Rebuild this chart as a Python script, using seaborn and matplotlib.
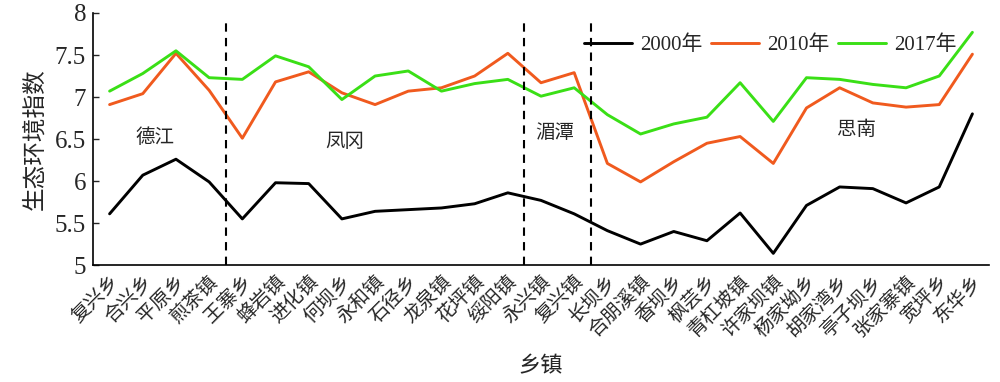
import numpy as np
import pandas as pd
import matplotlib
matplotlib.use('Agg')
import matplotlib.pyplot as plt
import seaborn as sns

# town names along the x axis
towns = ['复兴乡', '合兴乡', '平原乡', '煎茶镇', '王寨乡', '蜂岩镇', '进化镇', '何坝乡', '永和镇',
         '石径乡', '龙泉镇', '花坪镇', '绥阳镇', '永兴镇', '复兴镇', '长坝乡', '合朋溪镇', '香坝乡',
         '枫芸乡', '青杠坡镇', '许家坝镇', '杨家坳乡', '胡家湾乡', '亭子坝乡', '张家寨镇', '宽坪乡', '东华乡']

# ecological index per year
y2000 = [5.61, 6.07, 6.26, 5.99, 5.55, 5.98, 5.97, 5.55, 5.64, 5.66, 5.68, 5.73, 5.86, 5.77,
         5.61, 5.41, 5.25, 5.40, 5.29, 5.62, 5.14, 5.71, 5.93, 5.91, 5.74, 5.93, 6.80]
y2010 = [6.91, 7.04, 7.52, 7.08, 6.51, 7.18, 7.30, 7.05, 6.91, 7.07, 7.11, 7.25, 7.52, 7.17,
         7.29, 6.21, 5.99, 6.23, 6.45, 6.53, 6.21, 6.87, 7.11, 6.93, 6.88, 6.91, 7.51]
y2017 = [7.07, 7.28, 7.55, 7.23, 7.21, 7.49, 7.36, 6.97, 7.25, 7.31, 7.07, 7.16, 7.21, 7.01,
         7.11, 6.79, 6.56, 6.68, 6.76, 7.17, 6.71, 7.23, 7.21, 7.15, 7.11, 7.25, 7.77]
years = ['2000年', '2010年', '2017年']

# county groups: name, label position (index, value)
regions = ['德江', '凤冈', '湄潭', '思南']
region_x = [1.36, 7.08, 13.4, 22.5]
region_y = [6.52, 6.46, 6.57, 6.61]
dividers = [3.5, 12.5, 14.5]

idx = np.arange(len(towns))
df = pd.DataFrame({
    'idx': np.tile(idx, 3),
    'value': y2000 + y2010 + y2017,
    'year': np.repeat(years, len(towns)),
})

sns.set_style('white')
plt.rcParams['font.family'] = ['Liberation Serif', 'Noto Sans CJK SC']

fig = plt.figure(figsize=(10, 3.82), dpi=100)
ax = fig.add_axes([0.093, 0.306, 0.896, 0.66])

palette = {'2000年': 'black', '2010年': '#F05A1E', '2017年': '#3ADF16'}
sns.lineplot(data=df, x='idx', y='value', hue='year', palette=palette, linewidth=2.1, ax=ax)

# dashed county boundaries
for d in dividers:
    ax.axvline(d, ymin=0, ymax=0.97, color='black', linestyle=(0, (4, 3)), linewidth=1.5)

for name, rx, ry in zip(regions, region_x, region_y):
    ax.text(rx, ry, name, ha='center', va='center', fontsize=14)

ax.set_xlim(-0.5, len(towns) - 0.5)
ax.set_ylim(5, 8)
ax.set_yticks(np.arange(5, 8.01, 0.5))
ax.set_yticklabels(['5', '5.5', '6', '6.5', '7', '7.5', '8'], fontsize=18)
ax.set_xticks(idx)
ax.set_xticklabels(towns, rotation=45, ha='right', rotation_mode='anchor', fontsize=14)
ax.set_xticks(np.arange(0.5, len(towns), 1), minor=True)
ax.tick_params(axis='x', which='major', length=0, pad=5)
ax.tick_params(axis='x', which='minor', direction='in', length=4, width=1)
ax.tick_params(axis='y', direction='in', length=4, width=1, left=True, pad=5)

for s in ['top', 'right']:
    ax.spines[s].set_visible(False)
for s in ['left', 'bottom']:
    ax.spines[s].set_color('black')
    ax.spines[s].set_linewidth(1.2)

ax.set_xlabel('乡镇', fontsize=16, labelpad=12)
ax.set_ylabel('生态环境指数', fontsize=17, labelpad=6)

ax.legend(loc='upper right', bbox_to_anchor=(0.985, 0.985), ncol=3, frameon=False,
          fontsize=15, handlelength=2.3, columnspacing=0.4, handletextpad=0.4)

fig.savefig('out.png', dpi=100)
